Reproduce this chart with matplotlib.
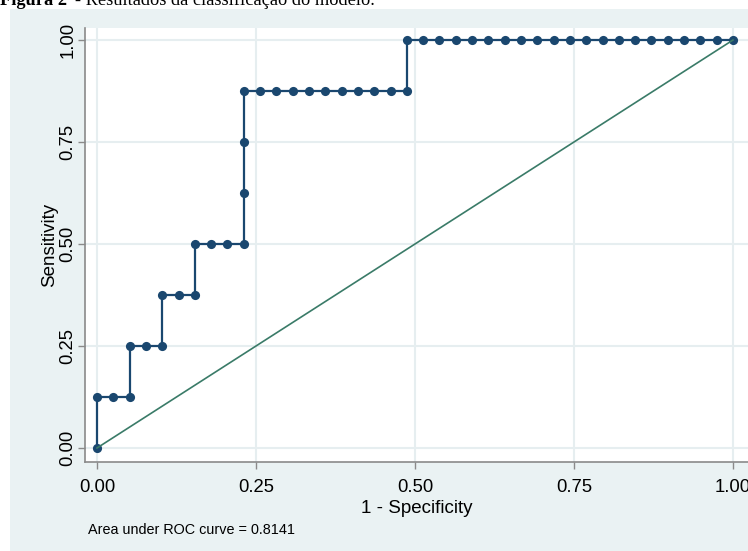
import matplotlib
matplotlib.use("Agg")
import matplotlib.pyplot as plt
from matplotlib.patches import Rectangle

# ROC-pontok: hamis pozitívok (n=39 negatív) és valódi pozitívok (n=8 pozitív)
N_NEG = 39
N_POS = 8
FP = [0, 0, 1, 2, 2, 3, 4, 4, 5, 6, 6, 7, 8, 9, 9, 9, 9,
      10, 11, 12, 13, 14, 15, 16, 17, 18, 19,
      19, 20, 21, 22, 23, 24, 25, 26, 27, 28, 29, 30, 31, 32, 33, 34, 35, 36, 37, 38, 39]
TP = [0, 1, 1, 1, 2, 2, 2, 3, 3, 3, 4, 4, 4, 4, 5, 6, 7,
      7, 7, 7, 7, 7, 7, 7, 7, 7, 7,
      8, 8, 8, 8, 8, 8, 8, 8, 8, 8, 8, 8, 8, 8, 8, 8, 8, 8, 8, 8, 8]
TICKS = [0.0, 0.25, 0.5, 0.75, 1.0]
TICK_LABELS = ["0.00", "0.25", "0.50", "0.75", "1.00"]
AUC_TEXT = "Area under ROC curve = 0.8141"

NAVY = "#1a476f"
GREEN = "#3a7b68"
BG = "#eaf2f3"
GRID = "#e6eef0"
AXIS = "#8a8a8a"

W, H = 748, 551
fig = plt.figure(figsize=(W / 100, H / 100), dpi=100, facecolor="white")
hatter = Rectangle((10 / W, 0), 1, 1 - 9 / H, transform=fig.transFigure,
                   facecolor=BG, edgecolor="none", zorder=-10)
fig.add_artist(hatter)

ax = fig.add_axes([85 / W, 89 / H, 663 / W, 434 / H])
ax.set_zorder(1)
ax.set_facecolor("white")

fpr = [f / N_NEG for f in FP]
tpr = [t / N_POS for t in TP]
ax.plot(fpr, tpr, color=NAVY, linewidth=1.6, marker="o", markersize=6.6,
        markeredgewidth=0, zorder=3)
ax.plot([0, 1], [0, 1], color=GREEN, linewidth=1.2, zorder=4)

ax.set_xlim(-12 / 636, 651 / 636)
ax.set_ylim(-14 / 408, 1 + 12 / 408)

ax.set_xticks(TICKS)
ax.set_xticklabels(TICK_LABELS)
ax.set_yticks(TICKS)
ax.set_yticklabels(TICK_LABELS, rotation=90, va="center")
for lab in ax.get_xticklabels() + ax.get_yticklabels():
    lab.set_family("Liberation Sans")
    lab.set_fontsize(13.3)
    lab.set_color("black")
ax.tick_params(axis="both", direction="out", length=5, width=1, color=AXIS)
ax.tick_params(axis="x", pad=7)
ax.tick_params(axis="y", pad=1)

ax.grid(True, color=GRID, linewidth=1.5)
ax.set_axisbelow(True)
for side in ("top", "right"):
    ax.spines[side].set_visible(False)
for side in ("left", "bottom"):
    ax.spines[side].set_color(AXIS)
    ax.spines[side].set_linewidth(1.2)

ax.set_xlabel("1 - Specificity", family="Liberation Sans", fontsize=13.5, labelpad=3)
ax.set_ylabel("Sensitivity", family="Liberation Sans", fontsize=13.5, labelpad=1)

fig.text(88 / W, 1 - 530 / H, AUC_TEXT, family="Liberation Sans", fontsize=10.4,
         va="center", ha="left")

fig.text(0, 1 - 5 / H, "Figura 2", family="Liberation Serif", fontweight="bold",
         fontsize=13.2, va="baseline", ha="left")
fig.text(75 / W, 1 - 5 / H, "- Resultados da classificação do modelo.",
         family="Liberation Serif", fontsize=13.2, va="baseline", ha="left")

fig.savefig("out.png", dpi=100, facecolor="white")
